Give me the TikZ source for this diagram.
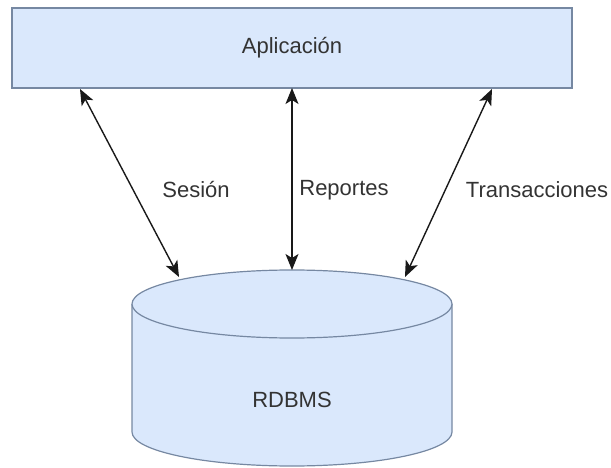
\documentclass[tikz,border=0pt]{standalone}
\usepackage{fontspec}
\setmainfont{Liberation Sans}
\usepackage{xcolor,tikz}
\usetikzlibrary{arrows.meta,positioning,calc}
\definecolor{boxfill}{HTML}{DAE8FC}
\definecolor{boxline}{RGB}{118,136,162}
\definecolor{labeltext}{RGB}{51,51,51}
\tikzset{>={Stealth[length=16pt,width=13pt,inset=4pt]}}
\tikzset{appbox/.style={draw=boxline, fill=boxfill, line width=1.2pt, outer sep=0pt, text=labeltext},
         dblink/.style={<->, line width=1.4pt, draw=black!90},
         lbl/.style={text=labeltext}}

\begin{document}
\begin{tikzpicture}[x=1pt,y=-1pt,font=\fontsize{22}{26}\selectfont]
\useasboundingbox (0,0) rectangle (611,468);
%%%% application box
\node[appbox, minimum width=560pt, minimum height=80pt] (app) at (292,48) {Aplicaci\'on};
%%%% database cylinder
\fill[boxfill] (132,304) -- (132,432) arc[start angle=180, end angle=0, x radius=160, y radius=34] -- (452,304) -- cycle;
\draw[boxline, line width=1.2pt] (132,304) -- (132,432) arc[start angle=180, end angle=0, x radius=160, y radius=34] -- (452,304);
\draw[boxline, fill=boxfill, line width=1.2pt] (292,304) ellipse [x radius=160, y radius=34];
\node[lbl] (db) at (292,400) {RDBMS};
%%%% end points on the cylinder top
\coordinate (sesTop) at (80,89);
\coordinate (sesDb) at (179,277);
\coordinate (repTop) at (app.south);
\coordinate (repDb) at (292,270);
\coordinate (traTop) at (492,89);
\coordinate (traDb) at (405,277);
%%%% connectors
\draw[dblink] (sesTop) -- (sesDb);
\draw[dblink] (repTop) -- (repDb);
\draw[dblink] (traTop) -- (traDb);
\node[lbl] (ses) at (196,190) {Sesi\'on};
\node[lbl] (rep) at (344,190) {Reportes};
\node[lbl] (tra) at (537,190) {Transacciones};
\end{tikzpicture}
\end{document}
